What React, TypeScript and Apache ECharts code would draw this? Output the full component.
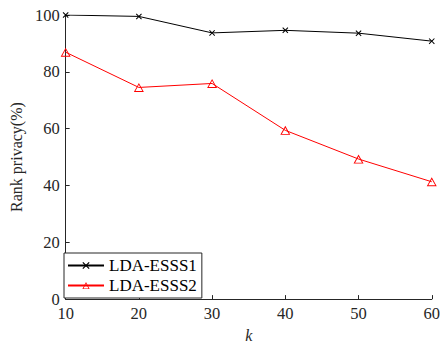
import React, { useEffect, useRef } from "react";
import * as echarts from "echarts";

const kValues = [10, 20, 30, 40, 50, 60];
const esss1 = [100, 99.5, 93.7, 94.6, 93.6, 90.8];
const esss2 = [86.9, 74.5, 75.9, 59.4, 49.3, 41.3];
const seriesNames = ["LDA-ESSS1", "LDA-ESSS2"];

const CROSS = "path://M0,1.2L1.2,0L5,3.8L8.8,0L10,1.2L6.2,5L10,8.8L8.8,10L5,6.2L1.2,10L0,8.8L3.8,5Z";
const TRI = "path://M5,0L10,9L0,9Z M5,1.9L1.55,8.1L8.45,8.1Z";

export default function App() {
  const ref = useRef<HTMLDivElement>(null);
  useEffect(() => {
    const chart = echarts.init(ref.current!, undefined, { renderer: "svg" });
    const font = "Liberation Serif, Times New Roman, serif";
    const axisColor = "#262626";
    chart.setOption({
      animation: false,
      backgroundColor: "#fff",
      textStyle: { fontFamily: font },
      grid: { left: 62, right: 10, top: 15, bottom: 46 },
      legend: {
        left: 64,
        top: 253,
        orient: "vertical",
        backgroundColor: "#fff",
        borderColor: axisColor,
        borderWidth: 1,
        borderRadius: 0,
        padding: [4, 5, 4, 3],
        itemGap: 3,
        itemWidth: 36,
        itemHeight: 9,
        textStyle: { fontFamily: font, fontSize: 17, color: "#000" },
        data: seriesNames,
      },
      xAxis: {
        type: "value",
        min: 10,
        max: 60,
        interval: 10,
        name: "k",
        nameLocation: "middle",
        nameGap: 27,
        nameTextStyle: { fontFamily: font, fontSize: 16, fontStyle: "italic", color: axisColor },
        axisLine: { lineStyle: { color: axisColor, width: 1 } },
        axisTick: { inside: true, length: 4, lineStyle: { color: axisColor } },
        axisLabel: { fontFamily: font, fontSize: 16.5, color: axisColor, margin: 6 },
        splitLine: { show: false },
      },
      yAxis: {
        type: "value",
        min: 0,
        max: 100,
        interval: 20,
        name: "Rank privacy(%)",
        nameLocation: "middle",
        nameGap: 39,
        nameTextStyle: { fontFamily: font, fontSize: 16, color: axisColor },
        axisLine: { show: true, lineStyle: { color: axisColor, width: 1 } },
        axisTick: { show: true, inside: true, length: 4, lineStyle: { color: axisColor } },
        axisLabel: { fontFamily: font, fontSize: 16.5, color: axisColor, margin: 6 },
        splitLine: { show: false },
      },
      series: [
        {
          name: seriesNames[0],
          type: "line",
          data: kValues.map((k, i) => [k, esss1[i]]),
          symbol: CROSS,
          symbolSize: 6,
          color: "#000",
          lineStyle: { color: "#000", width: 1 },
          itemStyle: { color: "#000", borderWidth: 0 },
        },
        {
          name: seriesNames[1],
          type: "line",
          data: kValues.map((k, i) => [k, esss2[i]]),
          symbol: TRI,
          symbolSize: [10, 9],
          color: "#ff0000",
          lineStyle: { color: "#ff0000", width: 1 },
          itemStyle: { color: "#ff0000", borderWidth: 0 },
        },
      ],
    });
    return () => chart.dispose();
  }, []);
  return <div ref={ref} style={{ width: 443, height: 348, position: "absolute", left: 0, top: 0 }} />;
}
